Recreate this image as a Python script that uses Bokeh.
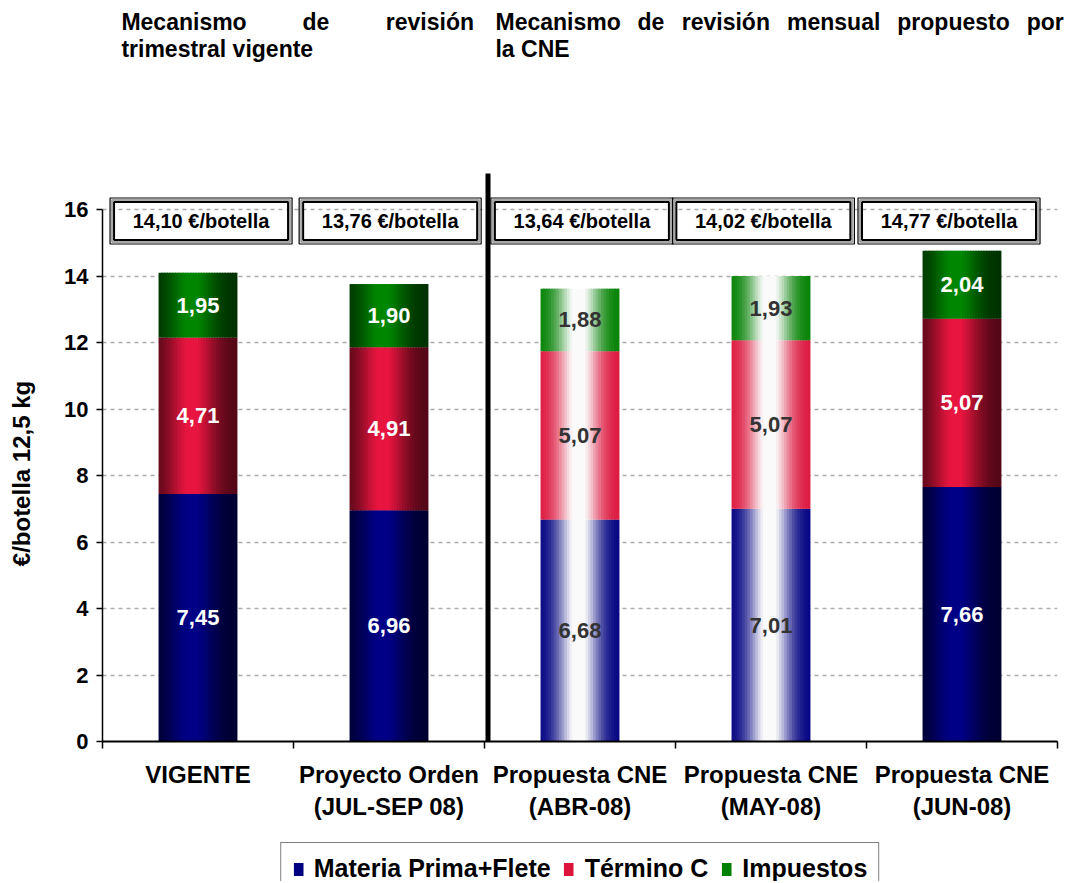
import numpy as np
from bokeh.plotting import figure
from bokeh.layouts import column, row
from bokeh.models import ColumnDataSource, Range1d, FixedTicker, Legend, LegendItem
from bokeh.core.properties import value
from bokeh.embed import file_html
from bokeh.resources import INLINE

# ---------------- data ----------------
categories = ["VIGENTE", "Proyecto Orden\n(JUL-SEP 08)", "Propuesta CNE\n(ABR-08)",
              "Propuesta CNE\n(MAY-08)", "Propuesta CNE\n(JUN-08)"]
materia_prima = [7.45, 6.96, 6.68, 7.01, 7.66]
termino_c = [4.71, 4.91, 5.07, 5.07, 5.07]
impuestos = [1.95, 1.90, 1.88, 1.93, 2.04]
totales = ["14,10", "13,76", "13,64", "14,02", "14,77"]
faded = [False, False, True, True, False]
series_names = ["Materia Prima+Flete", "Término C", "Impuestos"]
y_ticks = [0, 2, 4, 6, 8, 10, 12, 14, 16]
y_title = "€/botella 12,5 kg"
n_vigente = 2  # groups under the "trimestral vigente" heading
heading_1 = ["Mecanismo de revisión", "trimestral vigente"]
heading_2 = ["Mecanismo de revisión mensual propuesto por", "la CNE"]

# ---------------- layout / style ----------------
FONT = value("Liberation Sans")
BAR_W = 0.413
N = 30
base_rgb = [(0, 0, 128), (220, 20, 60), (0, 128, 0)]
box_offsets = [0.016, 0.006, 0.010, -0.040, -0.068]
LAB_W = 40          # left strip holding the y title
HEAD_H = 160        # heading strip height
MAIN_H = 675
LEG_H = 46
FRAME_L, FRAME_R, FRAME_B = 102.0, 1057.0, 741.0
PX_UNIT_Y = 33.22
PX_UNIT_X = (FRAME_R - FRAME_L) / len(categories)
Y_END = (FRAME_B - HEAD_H) / PX_UNIT_Y
TOTAL_H = HEAD_H + MAIN_H + LEG_H
BORDER_L = int(FRAME_L - LAB_W)

# Liberation Sans Bold advance widths (per 1000 em) for heading justification
AW = {'M': 833, 'e': 556, 'c': 556, 'a': 556, 'n': 611, 'i': 278, 's': 556, 'm': 889,
      'o': 611, 'd': 611, 'r': 389, 'v': 556, 'ó': 611, 'u': 611, 'l': 278, 'p': 611,
      't': 333, 'g': 611, 'C': 722, 'N': 722, 'E': 667, ' ': 278}


def word_w(w, size):
    return sum(AW.get(ch, 556) for ch in w) * size / 1000.0


def py2y(img_y):
    return (FRAME_B - img_y) / PX_UNIT_Y


def strip_color(rgb, t, fade):
    if fade:
        m = min(1.0, 1.08 * np.exp(-((t - 0.48) / 0.27) ** 2))
        c = [v * (1 - m) + 250 * m for v in rgb]
    else:
        f = min(1.05, 0.36 + 0.72 * np.exp(-((t - 0.42) / 0.3) ** 2))
        c = [v * f for v in rgb]
    c = [int(max(0, min(255, round(v)))) for v in c]
    return "#%02x%02x%02x" % tuple(c)


def blank(fig):
    fig.grid.visible = False
    return fig


ncat = len(categories)

# ---------------- main chart ----------------
MAIN_W = 1062 - LAB_W
p = figure(x_range=Range1d(0, ncat), y_range=Range1d(0, Y_END),
           width=MAIN_W, height=MAIN_H, output_backend="svg", toolbar_location=None,
           min_border_left=BORDER_L, min_border_right=int(1062 - FRAME_R),
           min_border_top=0, min_border_bottom=int(HEAD_H + MAIN_H - FRAME_B),
           outline_line_color=None, background_fill_color="white",
           border_fill_color="white")

series = [materia_prima, termino_c, impuestos]
bottoms = [0.0] * ncat
label_x, label_y, label_t, label_c = [], [], [], []
for s, vals in enumerate(series):
    ls, rs, bs, ts, cs = [], [], [], [], []
    for i in range(ncat):
        left = i + 0.5 - BAR_W / 2
        sw = BAR_W / N
        for k in range(N):
            t = (k + 0.5) / N
            l0 = left + k * sw
            ls.append(l0)
            rs.append(min(l0 + 1.6 * sw, left + BAR_W))
            bs.append(bottoms[i])
            ts.append(bottoms[i] + vals[i])
            cs.append(strip_color(base_rgb[s], t, faded[i]))
        label_x.append(i + 0.5)
        label_y.append(bottoms[i] + vals[i] / 2)
        label_t.append(f"{vals[i]:.2f}".replace(".", ","))
        label_c.append("#333333" if faded[i] else "white")
        bottoms[i] += vals[i]
    src = ColumnDataSource(dict(left=ls, right=rs, bottom=bs, top=ts, color=cs))
    p.quad(left="left", right="right", bottom="bottom", top="top",
           fill_color="color", line_color=None, source=src)

p.text(x=label_x, y=label_y, text=label_t, text_color=label_c,
       text_align="center", text_baseline="middle", text_font=FONT,
       text_font_style="bold", text_font_size="22px")

# total boxes
bx = [i + 0.5 + box_offsets[i] for i in range(ncat)]
by = [py2y(220.5)] * ncat
p.rect(x=bx, y=by, width=182, height=46, width_units="screen", height_units="screen",
       fill_color=None, line_color="black", line_width=1.2)
p.rect(x=bx, y=by, width=178, height=42, width_units="screen", height_units="screen",
       fill_color=None, line_color="#a8a8a8", line_width=2)
p.rect(x=bx, y=by, width=174, height=38, width_units="screen", height_units="screen",
       fill_color=None, line_color="black", line_width=2)
p.text(x=bx, y=by, text=[t + " €/botella" for t in totales], text_align="center",
       text_baseline="middle", text_font=FONT, text_font_style="bold",
       text_font_size="20px", text_color="black")

# divider between the two mechanisms
p.segment(x0=[n_vigente + 3.5 / PX_UNIT_X], y0=[0], x1=[n_vigente + 3.5 / PX_UNIT_X],
          y1=[py2y(173)], line_width=5, line_color="black")

# axes
p.xgrid.visible = False
p.ygrid.ticker = FixedTicker(ticks=y_ticks[1:])
p.ygrid.grid_line_color = "#aaaaaa"
p.ygrid.grid_line_dash = "4 4"
p.ygrid.grid_line_width = 1.5

ya = p.yaxis[0]
ya.ticker = FixedTicker(ticks=y_ticks)
ya.bounds = (0, 16)
ya.axis_line_width = 1.5
ya.major_tick_out = 6
ya.major_tick_in = 0
ya.major_tick_line_width = 1.5
ya.minor_tick_line_color = None
ya.major_label_text_font = "Liberation Sans"
ya.major_label_text_font_style = "bold"
ya.major_label_text_font_size = "22px"
ya.major_label_text_color = "black"
ya.major_label_standoff = 8

xa = p.xaxis[0]
centers = [i + 0.5 for i in range(ncat)]
xa.ticker = FixedTicker(ticks=centers, minor_ticks=list(range(ncat + 1)))
xa.major_label_overrides = {c: lab for c, lab in zip(centers, categories)}
xa.axis_line_width = 2
xa.major_tick_line_color = None
xa.minor_tick_out = 7
xa.minor_tick_in = 0
xa.minor_tick_line_width = 1.5
xa.minor_tick_line_color = "black"
xa.major_label_text_font = "Liberation Sans"
xa.major_label_text_font_style = "bold"
xa.major_label_text_font_size = "24px"
xa.major_label_text_color = "black"
xa.major_label_standoff = 12

# ---------------- heading strip (pixel coordinates, frame aligned with chart) ----------------
HEAD_W = 1075 - LAB_W
ph = blank(figure(width=HEAD_W, height=HEAD_H,
                  x_range=Range1d(FRAME_L, LAB_W + HEAD_W),
                  y_range=Range1d(HEAD_H, 0), output_backend="svg",
                  toolbar_location=None, min_border_left=BORDER_L, min_border_right=0,
                  min_border_top=0, min_border_bottom=0, outline_line_color=None,
                  x_axis_location=None, y_axis_location=None,
                  background_fill_color="white", border_fill_color="white"))
HS = 23
hx, hy, ht = [], [], []
for (line1, line2), x_l, x_r in [(heading_1, 121, 475), (heading_2, 497, 1068)]:
    words = line1.split(" ")
    widths = [word_w(w, HS) for w in words]
    gap = (x_r - x_l - sum(widths)) / (len(words) - 1)
    cur = x_l
    for w, ww in zip(words, widths):
        hx.append(cur); hy.append(21); ht.append(w)
        cur += ww + gap
    hx.append(x_l); hy.append(48); ht.append(line2)
ph.text(x=hx, y=hy, text=ht, text_align="left", text_baseline="middle", text_font=FONT,
        text_font_style="bold", text_font_size=f"{HS}px", text_color="black")

# ---------------- y title strip ----------------
py_ = blank(figure(width=LAB_W, height=TOTAL_H, x_range=Range1d(0, LAB_W),
                   y_range=Range1d(0, TOTAL_H), output_backend="svg",
                   toolbar_location=None, min_border=0, outline_line_color=None,
                   x_axis_location=None, y_axis_location=None,
                   background_fill_color="white", border_fill_color="white"))
py_.text(x=[21], y=[TOTAL_H - 473], text=[y_title], angle=np.pi / 2,
         text_align="center", text_baseline="middle", text_font=FONT,
         text_font_style="bold", text_font_size="24px", text_color="black")

# ---------------- legend strip ----------------
pl = blank(figure(width=MAIN_W, height=LEG_H, x_range=Range1d(0, 1),
                  y_range=Range1d(0, 1), output_backend="svg", toolbar_location=None,
                  min_border_left=BORDER_L, min_border_right=int(1062 - FRAME_R),
                  min_border_top=0, min_border_bottom=0,
                  outline_line_color=None, x_axis_location=None, y_axis_location=None,
                  background_fill_color="white", border_fill_color="white"))
items = []
for name, rgb in zip(series_names, base_rgb):
    r = pl.quad(left=[2], right=[3], bottom=[2], top=[3],
                fill_color="#%02x%02x%02x" % rgb, line_color=None)
    items.append(LegendItem(label=name, renderers=[r]))
legend = Legend(items=items, orientation="horizontal", location="top_center",
                label_text_font="Liberation Sans", label_text_font_style="bold",
                label_text_font_size="25px", label_text_color="black",
                label_height=24, border_line_color="black", border_line_width=1.5,
                glyph_width=12, glyph_height=16, spacing=12, padding=11,
                label_standoff=10, margin=7)
pl.add_layout(legend, "center")

layout = row(py_, column(ph, p, pl, spacing=0), spacing=0)
open("out.html", "w").write(file_html(layout, INLINE))
